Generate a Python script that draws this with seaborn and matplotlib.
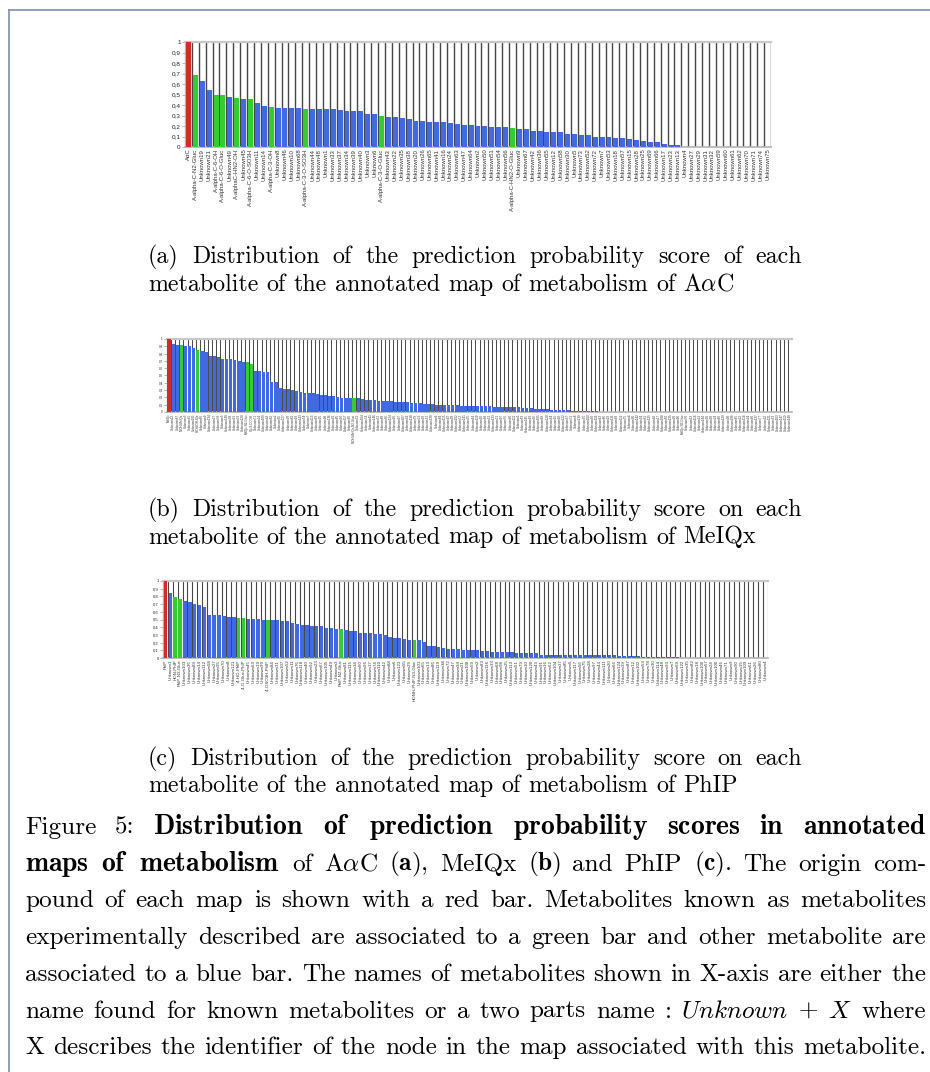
import numpy as np
import pandas as pd
import seaborn as sns
import matplotlib
matplotlib.use("Agg")
import matplotlib.pyplot as plt
from matplotlib.lines import Line2D

W, H = 930, 1072

# ---- panel (a): map of A-alpha-C
a_names = ["AαC", "A-alpha-C-N2-Gluc", "Unknown19", "Unknown21", "A-alpha-C-6-OH",
           "A-alpha-C-6-O-Gluc", "Unknown49", "A-alphaC-HN2-OH", "Unknown45", "A-alpha-C-6-O-SO3H",
           "Unknown11", "Unknown14", "A-alpha-C-3-OH", "Unknown8", "Unknown46", "Unknown10",
           "Unknown68", "A-alpha-C-3-O-SO3H", "Unknown44", "Unknown48", "Unknown1", "Unknown33",
           "Unknown37", "Unknown34", "Unknown39", "Unknown40", "Unknown3", "Unknown6",
           "A-alpha-C-3-O-Gluc", "Unknown43", "Unknown22", "Unknown35", "Unknown38", "Unknown20",
           "Unknown26", "Unknown65", "Unknown41", "Unknown16", "Unknown24", "Unknown63", "Unknown47",
           "Unknown64", "Unknown2", "Unknown50", "Unknown51", "Unknown54", "Unknown56",
           "A-alpha-C-HN2-O-Gluc", "Unknown9", "Unknown67", "Unknown42", "Unknown36", "Unknown55",
           "Unknown12", "Unknown58", "Unknown30", "Unknown5", "Unknown73", "Unknown52", "Unknown72",
           "Unknown7", "Unknown53", "Unknown18", "Unknown57", "Unknown15", "Unknown28", "Unknown25",
           "Unknown69", "Unknown66", "Unknown17", "Unknown23", "Unknown13", "Unknown4", "Unknown27",
           "Unknown29", "Unknown31", "Unknown32", "Unknown59", "Unknown60", "Unknown61", "Unknown62",
           "Unknown70", "Unknown71", "Unknown74", "Unknown75"]
a_scores = [1.00, 0.69, 0.63, 0.54, 0.50, 0.50, 0.48, 0.47, 0.46, 0.46,
            0.42, 0.39, 0.38, 0.37, 0.37, 0.37, 0.37, 0.36, 0.36, 0.36,
            0.36, 0.36, 0.35, 0.34, 0.34, 0.34, 0.315, 0.315, 0.30, 0.29,
            0.29, 0.28, 0.27, 0.25, 0.25, 0.24, 0.24, 0.24, 0.23, 0.22,
            0.21, 0.21, 0.20, 0.20, 0.19, 0.19, 0.19, 0.18, 0.17, 0.17,
            0.155, 0.155, 0.145, 0.145, 0.145, 0.126, 0.126, 0.117, 0.117, 0.098,
            0.098, 0.098, 0.088, 0.088, 0.079, 0.069, 0.06, 0.05, 0.05, 0.03,
            0.02, 0.02, 0, 0, 0, 0, 0, 0, 0, 0, 0, 0, 0, 0, 0]
a_known = ["A-alpha-C-N2-Gluc", "A-alpha-C-6-OH", "A-alpha-C-6-O-Gluc", "A-alphaC-HN2-OH",
           "A-alpha-C-6-O-SO3H", "A-alpha-C-3-OH", "A-alpha-C-3-O-SO3H", "A-alpha-C-3-O-Gluc",
           "A-alpha-C-HN2-O-Gluc"]

# ---- panel (b): map of MeIQx
b_scores = [1.00, 0.93, 0.92, 0.92, 0.905, 0.905, 0.88, 0.85, 0.84, 0.82,
            0.77, 0.77, 0.755, 0.73, 0.73, 0.72, 0.71, 0.70, 0.69, 0.69,
            0.66, 0.56, 0.56, 0.55, 0.55, 0.41, 0.41, 0.33, 0.32, 0.32,
            0.305, 0.29, 0.28, 0.265, 0.265, 0.265, 0.25, 0.235, 0.235, 0.22,
            0.22, 0.21, 0.195, 0.195, 0.195, 0.195, 0.195, 0.18, 0.17, 0.17,
            0.16, 0.155, 0.155, 0.155, 0.155, 0.14, 0.14, 0.14, 0.14, 0.127,
            0.127, 0.127, 0.114, 0.114, 0.114, 0.10, 0.10, 0.10, 0.10, 0.10,
            0.10, 0.086, 0.086, 0.086, 0.086, 0.086, 0.086, 0.086, 0.086, 0.073,
            0.073, 0.073, 0.073, 0.073, 0.073, 0.073, 0.06, 0.06, 0.06, 0.045,
            0.045, 0.045, 0.045, 0.032, 0.032, 0.032, 0.032, 0.032, 0.018, 0.018,
            0.018, 0.018, 0.018, 0.018, 0.018, 0.006, 0.006, 0.006, 0.006, 0.006,
            0.006, 0.006, 0.006, 0.006, 0.006, 0.006, 0, 0, 0, 0,
            0, 0, 0, 0, 0, 0, 0, 0, 0, 0,
            0, 0, 0, 0, 0, 0, 0, 0, 0, 0,
            0, 0, 0, 0, 0, 0, 0, 0, 0, 0,
            0, 0]
b_named = {0: "MeIQx", 3: "N-OH-MeIQx", 7: "8-CH2OH-IQx", 19: "MeIQx-N2-Gluc",
           20: "IQx-8-COOH", 45: "N-OH-MeIQx-N2-Gluc", 125: "MeIQx-N3-Gluc"}
b_known = ["N-OH-MeIQx", "8-CH2OH-IQx", "MeIQx-N2-Gluc", "IQx-8-COOH", "N-OH-MeIQx-N2-Gluc"]
b_unknown_ids = [12, 87, 3, 45, 101, 66, 9, 134, 27, 78, 5, 140, 58, 91, 33, 120, 71, 14, 109, 48,
                 62, 2, 95, 127, 39, 81, 18, 143, 54, 7, 113, 69, 25, 98, 136, 41, 85, 20, 117, 60,
                 31, 104, 74, 11, 146, 52, 89, 36, 124, 16, 67, 107, 43, 138, 79, 23, 93, 57, 130, 6,
                 84, 115, 47, 29, 102, 72, 141, 35, 64, 119, 10, 88, 51, 133, 21, 97, 76, 40, 111, 1,
                 59, 145, 83, 26, 105, 68, 128, 44, 15, 92, 122, 37, 73, 8, 139, 55, 100, 30, 116, 63,
                 86, 19, 131, 49, 112, 75, 4, 96, 142, 34, 61, 125, 82, 17, 108, 50, 135, 28, 90, 70,
                 13, 118, 42, 144, 56, 99, 24, 80, 129, 38, 106, 65, 22, 114, 94, 46, 137, 77, 32, 121,
                 53, 103, 147, 110, 148]

# ---- panel (c): map of PhIP
c_scores = [1.00, 0.85, 0.79, 0.765, 0.74, 0.725, 0.70, 0.685, 0.66, 0.56,
            0.56, 0.56, 0.545, 0.53, 0.53, 0.52, 0.52, 0.505, 0.505, 0.505,
            0.495, 0.495, 0.495, 0.495, 0.48, 0.48, 0.455, 0.44, 0.43, 0.43,
            0.415, 0.415, 0.415, 0.39, 0.39, 0.38, 0.38, 0.365, 0.35, 0.35,
            0.325, 0.325, 0.325, 0.31, 0.31, 0.30, 0.275, 0.26, 0.26, 0.25,
            0.235, 0.235, 0.235, 0.21, 0.16, 0.16, 0.145, 0.135, 0.12, 0.12,
            0.12, 0.105, 0.105, 0.105, 0.105, 0.095, 0.095, 0.08, 0.08, 0.08,
            0.08, 0.075, 0.06, 0.06, 0.06, 0.06, 0.06, 0.045, 0.045, 0.045,
            0.045, 0.045, 0.033, 0.033, 0.033, 0.033, 0.033, 0.033, 0.033, 0.033,
            0.033, 0.033, 0.033, 0.02, 0.02, 0.02, 0.02, 0.02, 0.01, 0.01,
            0.01, 0.01, 0.01, 0.01, 0.01, 0.01, 0, 0, 0, 0,
            0, 0, 0, 0, 0, 0, 0, 0, 0, 0,
            0, 0, 0, 0]
c_named = {0: "PhIP", 2: "HON-PhIP", 3: "PhIP-N3-Gluc", 15: "4'-HO-PhIP", 16: "4'-O-Gluc-PhIP",
           21: "4'-OSO3H-PhIP", 36: "PhIP-N2-Gluc", 51: "HONH-PhIP-N3-Gluc"}
c_known = ["HON-PhIP", "PhIP-N3-Gluc", "4'-HO-PhIP", "4'-O-Gluc-PhIP", "4'-OSO3H-PhIP",
           "PhIP-N2-Gluc", "HONH-PhIP-N3-Gluc"]
c_unknown_ids = [1, 103, 36, 89, 14, 112, 58, 27, 95, 70, 8, 121, 45, 63, 19, 99, 84, 31, 107, 52,
                 11, 76, 118, 40, 92, 23, 67, 105, 49, 3, 81, 115, 34, 60, 96, 17, 74, 110, 42, 88,
                 6, 123, 55, 29, 101, 65, 13, 86, 119, 38, 72, 47, 94, 21, 108, 59, 2, 83, 116, 33,
                 68, 98, 25, 113, 51, 79, 10, 120, 43, 91, 16, 62, 104, 37, 85, 5, 117, 56, 75, 28,
                 97, 44, 111, 20, 66, 124, 39, 87, 12, 102, 53, 78, 30, 114, 48, 93, 7, 69, 122, 35,
                 82, 18, 106, 57, 24, 100, 46, 71, 9, 90, 15, 109, 61, 26, 80, 4]

y_ticklabels = ["0", "0,1", "0,2", "0,3", "0,4", "0,5", "0,6", "0,7", "0,8", "0,9", "1"]

PALETTE = {"origin": "#d22b2b", "known": "#33cc33", "other": "#4169e1"}
LABEL_FONT = ["Liberation Sans", "DejaVu Sans"]
BOLD_SCALE = 1.1   # cmb10 is narrower than the bold extended face of the original

plt.rcParams["mathtext.fontset"] = "cm"


def build_names(n, named, ids):
    # named metabolites keep their name, the others are Unknown + node id
    it = iter(ids)
    return [named[i] if i in named else "Unknown%d" % next(it) for i in range(n)]


def px_rect(left, top, right, bottom):
    return [left / W, 1 - bottom / H, (right - left) / W, (bottom - top) / H]


def draw_panel(fig, rect, names, scores, known, bar_w, lab_size, ytick_size, line_w):
    ax = fig.add_axes(rect)
    kind = ["origin" if i == 0 else ("known" if nm in known else "other")
            for i, nm in enumerate(names)]
    df = pd.DataFrame({"pos": range(len(names)), "score": scores, "kind": kind})
    sns.barplot(data=df, x="pos", y="score", hue="kind", palette=PALETTE, width=bar_w,
                dodge=False, saturation=1, linewidth=0, errorbar=None, legend=False,
                ax=ax, zorder=3)
    n = len(names)
    ax.vlines(np.arange(n) + 0.5, 0, 1, colors="#474747", lw=line_w, zorder=1)
    ax.set_xlim(-0.5, n - 0.5)
    ax.set_ylim(0, 1)
    ax.set_xticks(range(n))
    ax.set_xticklabels(names, rotation=90, fontsize=lab_size, family=LABEL_FONT, color="#333333")
    ax.set_yticks([i / 10 for i in range(11)])
    ax.set_yticklabels(y_ticklabels, fontsize=ytick_size, family=LABEL_FONT, color="#222222")
    ax.tick_params(axis="x", length=0, pad=1.2)
    ax.tick_params(axis="y", length=2, width=0.5, color="#999999", pad=1)
    ax.set_xlabel("")
    ax.set_ylabel("")
    ax.set_facecolor("white")
    ax.spines["top"].set_color("#c8c8c8")
    ax.spines["top"].set_linewidth(1.6)
    ax.spines["bottom"].set_color("#b4b4b4")
    ax.spines["bottom"].set_linewidth(1.2)
    ax.spines["left"].set_color("#b4b4b4")
    ax.spines["left"].set_linewidth(1.0)
    ax.spines["right"].set_visible(False)
    return ax


def word_size(word, size):
    return size * BOLD_SCALE if word.startswith(r"$\mathbf") else size


def measure(fig, words, size):
    renderer = fig.canvas.get_renderer()
    arts = [fig.text(0, 0, w, fontsize=word_size(w, size), family="cmr10") for w in words]
    widths = [a.get_window_extent(renderer).width for a in arts]
    for a in arts:
        a.remove()
    return widths


def space_width(fig, size):
    w = measure(fig, ["x x", "xx"], size)
    return w[0] - w[1]


def fit_size(fig, line, target, size0=12.0):
    # font size at which the line, set with plain spaces, is `target` px wide
    words = line.split(" ")
    natural = sum(measure(fig, words, size0)) + space_width(fig, size0) * (len(words) - 1)
    return size0 * target / natural


def put_line(fig, line, x0, x1, y, size, justify=True):
    # place a line of words, stretching the spaces when justified (like LaTeX)
    renderer = fig.canvas.get_renderer()
    words = line.split(" ")
    arts = [fig.text(0, 1 - y / H, w, fontsize=word_size(w, size), family="cmr10",
                     va="baseline", color="black") for w in words]
    widths = [a.get_window_extent(renderer).width for a in arts]
    space = space_width(fig, size)
    if justify and len(words) > 1:
        space = (x1 - x0 - sum(widths)) / (len(words) - 1)
    x = x0
    for a, w in zip(arts, widths):
        a.set_x(x / W)
        x += w + space


fig = plt.figure(figsize=(W / 100, H / 100), dpi=100)
fig.patch.set_facecolor("white")

b_names = build_names(len(b_scores), b_named, b_unknown_ids)
c_names = build_names(len(c_scores), c_named, c_unknown_ids)

draw_panel(fig, px_rect(185, 42, 771, 147), a_names, a_scores, a_known, 0.72, 4.3, 4.6, 1.0)
draw_panel(fig, px_rect(167, 339, 792, 412), b_names, b_scores, b_known, 0.8, 2.2, 2.2, 0.7)
draw_panel(fig, px_rect(163, 581, 768, 658), c_names, c_scores, c_known, 0.72, 3.2, 3.0, 0.8)

# sub captions
sub_lines = [
    ("(a) Distribution of the prediction probability score of each", 263, True),
    (r"metabolite of the annotated map of metabolism of A$\alpha$C", 291, False),
    ("(b) Distribution of the prediction probability score on each", 516, True),
    ("metabolite of the annotated map of metabolism of MeIQx", 543.5, False),
    ("(c) Distribution of the prediction probability score on each", 765, True),
    ("metabolite of the annotated map of metabolism of PhIP", 792, False),
]
SUB = fit_size(fig, sub_lines[1][0], 587)
for line, y, just in sub_lines:
    put_line(fig, line, 148, 802, y, SUB, just)

# figure caption
caption = [
    r"Figure 5: $\mathbf{Distribution}$ $\mathbf{of}$ $\mathbf{prediction}$ $\mathbf{probability}$ $\mathbf{scores}$ $\mathbf{in}$ $\mathbf{annotated}$",
    r"$\mathbf{maps}$ $\mathbf{of}$ $\mathbf{metabolism}$ of A$\alpha$C ($\mathbf{a}$), MeIQx ($\mathbf{b}$) and PhIP ($\mathbf{c}$). The origin com-",
    "pound of each map is shown with a red bar. Metabolites known as metabolites",
    "experimentally described are associated to a green bar and other metabolite are",
    "associated to a blue bar. The names of metabolites shown in X-axis are either the",
    r"name found for known metabolites or a two parts name : $\mathit{Unknown}$ + $X$ where",
    "X describes the identifier of the node in the map associated with this metabolite.",
]
CAP = fit_size(fig, caption[-1], 895)
for k, line in enumerate(caption):
    put_line(fig, line, 25, 926, 834 + 36.7 * k, CAP)

# page frame
fig.add_artist(Line2D([9 / W, 1.0], [1 - 10 / H, 1 - 10 / H], color="#7d8fa8", lw=1.2))
fig.add_artist(Line2D([9 / W, 9 / W], [1 - 10 / H, 0.0], color="#7d8fa8", lw=1.2))

fig.savefig("out.png", dpi=100, facecolor="white")
